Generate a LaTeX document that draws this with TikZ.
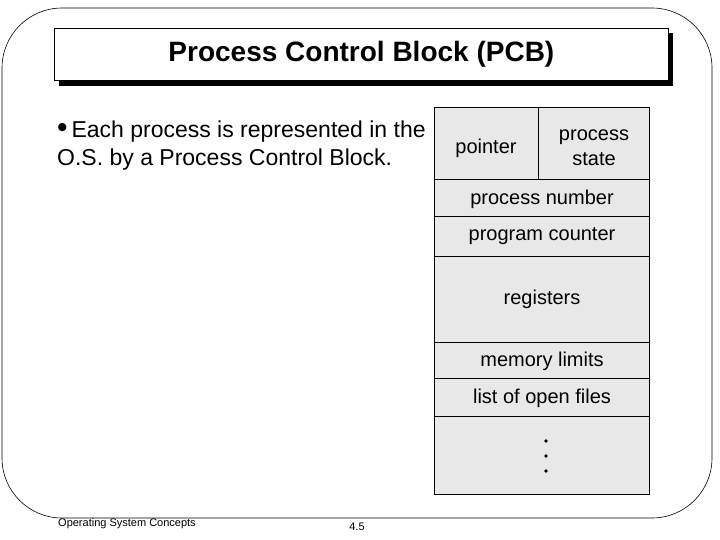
\documentclass[tikz,border=0pt]{standalone}
\usepackage{fontspec}
\setmainfont{Liberation Sans}
\begin{document}
\begin{tikzpicture}[x=1pt,y=-1pt,
  cell/.style={draw=black,line width=1pt,fill=black!9},
  lbl/.style={font=\fontsize{20}{22}\selectfont,align=center}]
\useasboundingbox (0,0) rectangle (720,540);
\draw[line width=0.6pt,rounded corners=60pt] (2,8) rectangle (712,518);
% title
\fill[black] (59,33) rectangle (673,86);
\node[draw=black,fill=white,line width=0.8pt,minimum width=614pt,minimum height=52pt,inner sep=0pt,anchor=north west,font=\bfseries\fontsize{28}{32}\selectfont] (title) at (54,28) {Process Control Block (PCB)};
% bullet text
\node[anchor=north west,align=left,font=\fontsize{23}{28}\selectfont,inner sep=0pt] (txt) at (57,121) {{\fontsize{30}{28}\selectfont\textbullet}\,Each process is represented in the\\O.S. by a Process Control Block.};
% table
\draw[cell] (434,108) rectangle (649,494);
\foreach \y in {180,217,256,342,378,416} \draw[line width=1pt] (434,\y) -- (649,\y);
\draw[line width=1pt] (538,108) -- (538,180);
\node[lbl] (p) at (486,148) {pointer};
\node[lbl,font=\fontsize{20}{25}\selectfont] (ps) at (594,148) {process\\state};
\node[lbl] (pn) at (542,199) {process number};
\node[lbl] (pc) at (542,236) {program counter};
\node[lbl] (rg) at (542,299) {registers};
\node[lbl] (ml) at (542,361) {memory limits};
\node[lbl] (lf) at (542,398) {list of open files};
\foreach \y/\n in {441/d1,456/d2,471/d3} \fill (546,\y) circle (1.8pt) coordinate (\n);
% footer
\node[anchor=west,font=\fontsize{11}{12}\selectfont,inner sep=0pt] (f1) at (58,524) {Operating System Concepts};
\node[font=\fontsize{11}{12}\selectfont,inner sep=0pt] (f2) at (357,527) {4.5};
\end{tikzpicture}
\end{document}
